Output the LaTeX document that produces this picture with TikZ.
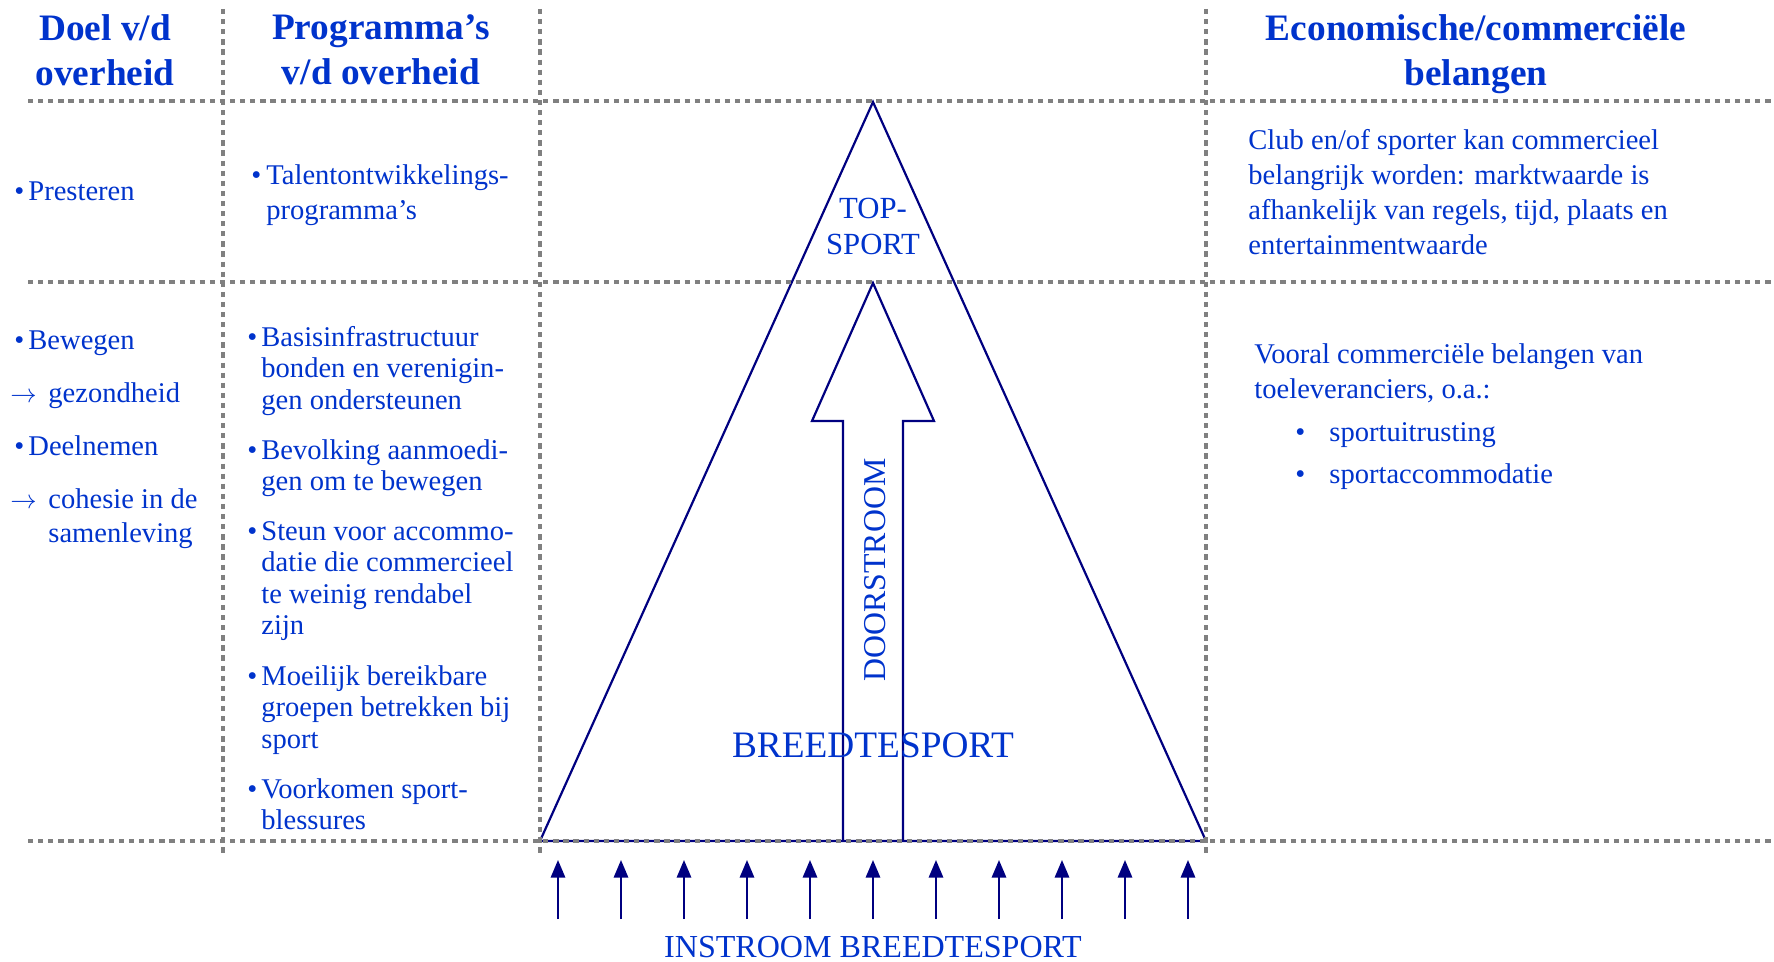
\documentclass[tikz,border=0pt]{standalone}
\usepackage{fontspec}
\setmainfont{Liberation Serif}
\usepackage{tikz}
\usetikzlibrary{arrows.meta}
\definecolor{inkblue}{RGB}{0,51,204}
\definecolor{navyline}{RGB}{0,0,128}
\definecolor{gridgray}{RGB}{128,128,128}
\newcommand{\txtlines}[1]{\begin{tabular}[t]{@{}l@{}}#1\end{tabular}}

\begin{document}
\begin{tikzpicture}[x=0.016cm, y=-0.016cm, >={Triangle[length=8pt,width=6.5pt]},
  hdtext/.style={font=\fontsize{17}{20.5}\selectfont\bfseries, text=inkblue, align=center, inner sep=0pt},
  bodytext/.style={font=\fontsize{13}{14.4}\selectfont, text=inkblue, inner sep=0pt, anchor=base west},
  widetext/.style={bodytext, font=\fontsize{13}{15.9}\selectfont},
  zonetext/.style={text=inkblue, align=center, inner sep=0pt},
  gridln/.style={gridgray, line width=1.8pt, dash pattern=on 2.4pt off 2.2pt},
  navyln/.style={navyline, line width=1pt, line join=miter}]
  \useasboundingbox (0,0) rectangle (1774,962);

  % pyramid and doorstroom arrow
  \coordinate (apex) at (873,102);
  \coordinate (baseL) at (540,841);
  \coordinate (baseR) at (1206,841);
  \draw[navyln] (baseL) -- (apex) -- (baseR) -- cycle;
  \draw[navyln] (843,841) -- (843,421) -- (812,421) -- (873,283) -- (934,421) -- (903,421) -- (903,841);

  % grid
  \draw[gridln] (28,101) -- (1774,101);
  \draw[gridln] (28,282) -- (1774,282);
  \draw[gridln] (28,841) -- (1774,841);
  \draw[gridln] (223,9) -- (223,854);
  \draw[gridln] (540,9) -- (540,854);
  \draw[gridln] (1206,9) -- (1206,854);

  % headers
  \node[hdtext] (hdoel) at (105,50) {Doel v/d\\overheid};
  \node[hdtext] (hprog) at (381,50) {Programma’s\\v/d overheid};
  \node[hdtext] (hecon) at (1476,54) {Economische/commerciële\\belangen};

  % doel v/d overheid
  \node[bodytext] (b1) at (14,200) {•};
  \node[bodytext] (presteren) at (28,200) {Presteren};
  \node[bodytext] (b2) at (14,349) {•};
  \node[bodytext] (bewegen) at (28,349) {Bewegen};
  \node[bodytext] (a1) at (10,402) {$\rightarrow$};
  \node[bodytext] (gezond) at (48,402) {gezondheid};
  \node[bodytext] (b3) at (14,455) {•};
  \node[bodytext] (deelnemen) at (28,455) {Deelnemen};
  \node[bodytext] (a2) at (10,508) {$\rightarrow$};
  \node[widetext] (cohesie) at (48,508) {\txtlines{cohesie in de\\samenleving}};

  % programma's v/d overheid
  \node[bodytext] (p0) at (251,185) {•};
  \node[widetext] (talent) at (266,185) {\txtlines{Talentontwikkelings-\\programma’s}};
  \node[bodytext] (p1) at (247,346) {•};
  \node[bodytext] (basis) at (261,346) {\txtlines{Basisinfrastructuur\\bonden en verenigin-\\gen ondersteunen}};
  \node[bodytext] (p2) at (247,459) {•};
  \node[bodytext] (bevolking) at (261,459) {\txtlines{Bevolking aanmoedi-\\gen om te bewegen}};
  \node[bodytext] (p3) at (247,540) {•};
  \node[bodytext] (steun) at (261,540) {\txtlines{Steun voor accommo-\\datie die commercieel\\te weinig rendabel\\zijn}};
  \node[bodytext] (p4) at (247,685) {•};
  \node[bodytext] (moeilijk) at (261,685) {\txtlines{Moeilijk bereikbare\\groepen betrekken bij\\sport}};
  \node[bodytext] (p5) at (247,798) {•};
  \node[bodytext] (voorkomen) at (261,798) {\txtlines{Voorkomen sport-\\blessures}};

  % economische belangen
  \node[widetext] (club) at (1248,150) {\txtlines{Club en/of sporter kan commercieel\\belangrijk worden: marktwaarde is\\afhankelijk van regels, tijd, plaats en\\entertainmentwaarde}};
  \node[widetext] (vooral) at (1254,364) {\txtlines{Vooral commerciële belangen van\\toeleveranciers, o.a.:}};
  \node[bodytext] (e1) at (1295,441) {•};
  \node[bodytext] (uitrusting) at (1329,441) {sportuitrusting};
  \node[bodytext] (e2) at (1295,483) {•};
  \node[bodytext] (accom) at (1329,483) {sportaccommodatie};

  % pyramid labels
  \node[zonetext, font=\fontsize{14}{16.4}\selectfont] (top) at (873,226) {TOP-\\SPORT};
  \node[zonetext, font=\fontsize{14.5}{16}\selectfont, rotate=90] (door) at (875,570) {DOORSTROOM};
  \node[zonetext, font=\fontsize{17}{19}\selectfont] (breedte) at (873,745) {BREEDTESPORT};
  \node[zonetext, font=\fontsize{14.6}{16}\selectfont] (instroom) at (873,947) {INSTROOM BREEDTESPORT};

  % instroom arrows
  \foreach \i in {0,...,10} {
    \coordinate (in\i) at ({558+63*\i},919);
    \coordinate (up\i) at ({558+63*\i},860);
    \draw[->, navyline, line width=1pt] (in\i) -- (up\i);
  }
\end{tikzpicture}
\end{document}
